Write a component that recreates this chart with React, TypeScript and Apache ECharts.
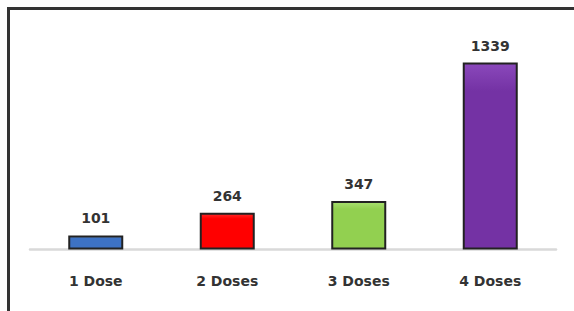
import React, { useEffect, useRef } from "react";
import * as echarts from "echarts";

const categories = ["1 Dose", "2 Doses", "3 Doses", "4 Doses"];
const values = [101, 264, 347, 1339];
const barColors = [
  ["#6fa0e0", "#3d72c4"],
  ["#ff2a2a", "#ff0000"],
  ["#a8e070", "#92d050"],
  ["#8a48bb", "#7432a4"],
];

export default function App() {
  const ref = useRef<HTMLDivElement>(null);
  useEffect(() => {
    if (!ref.current) return;
    const chart = echarts.init(ref.current, null, { renderer: "svg" });
    chart.setOption({
      animation: false,
      backgroundColor: "#ffffff",
      textStyle: { fontFamily: "DejaVu Sans" },
      grid: { left: 30, right: 18, top: 54, bottom: 61.5 },
      xAxis: {
        type: "category",
        data: categories,
        axisLine: { lineStyle: { color: "#d9d9d9", width: 2.5 } },
        axisTick: { show: false },
        axisLabel: {
          color: "#333",
          fontSize: 14,
          fontWeight: "bold",
          margin: 24,
          fontFamily: "DejaVu Sans",
        },
      },
      yAxis: {
        type: "value",
        min: 0,
        max: 1400,
        show: false,
        splitLine: { show: false },
      },
      graphic: [
        { type: "line", shape: { x1: 7, y1: 8.5, x2: 574, y2: 8.5 }, style: { stroke: "#333", lineWidth: 3 } },
        { type: "line", shape: { x1: 8.5, y1: 7, x2: 8.5, y2: 311 }, style: { stroke: "#333", lineWidth: 3 } },
      ],
      series: [
        {
          type: "bar",
          barWidth: 55,
          data: values.map((v, i) => ({
            value: v,
            itemStyle: {
              color: new echarts.graphic.LinearGradient(0, 0, 0, 1, [
                { offset: 0, color: barColors[i][0] },
                { offset: 0.15, color: barColors[i][1] },
                { offset: 1, color: barColors[i][1] },
              ]),
              borderColor: "#222",
              borderWidth: 2,
            },
          })),
          label: {
            show: true,
            position: "top",
            distance: 10,
            color: "#333",
            fontWeight: "bold",
            fontSize: 14,
            fontFamily: "DejaVu Sans",
          },
        },
      ],
    });
    return () => chart.dispose();
  }, []);
  return (
    <div
      ref={ref}
      style={{ position: "fixed", left: 0, top: 0, width: 574, height: 311 }}
    />
  );
}
